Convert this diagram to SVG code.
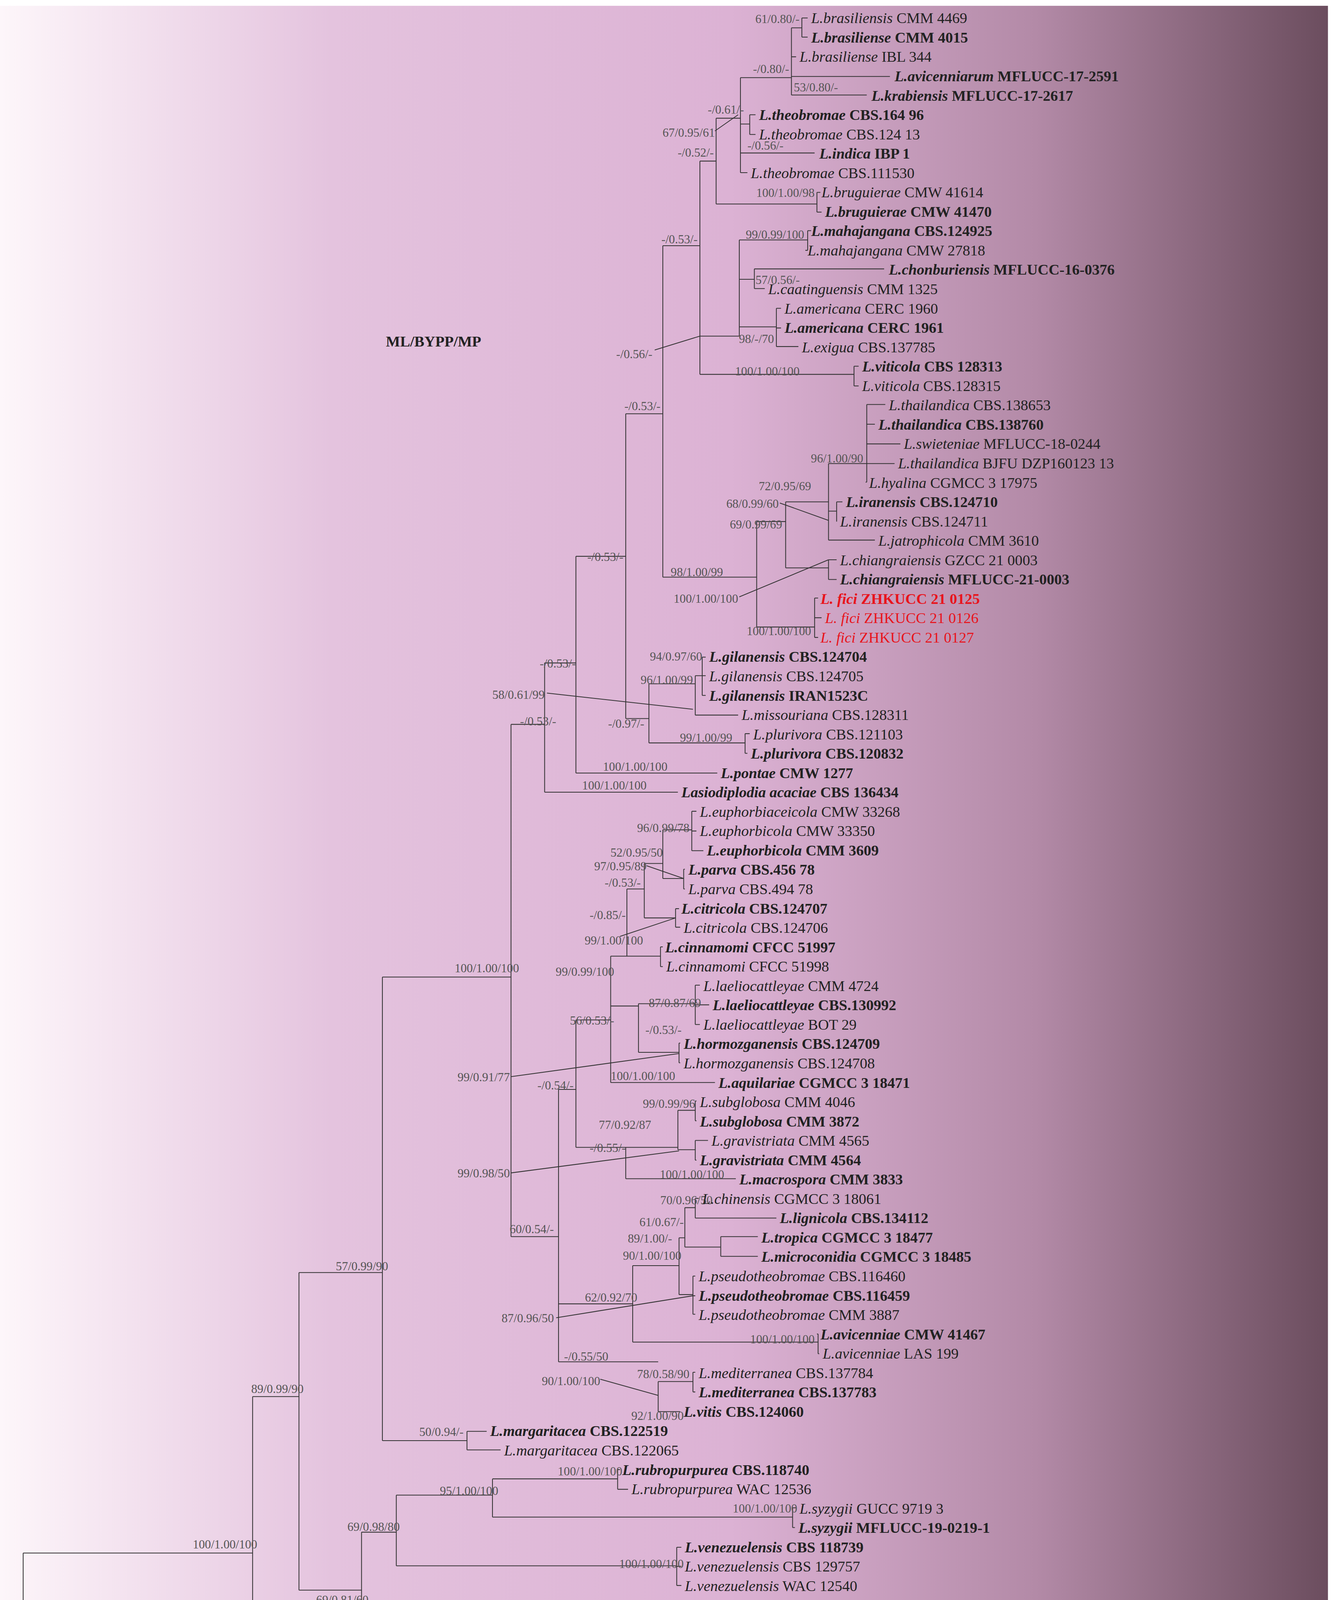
<svg xmlns="http://www.w3.org/2000/svg" width="3408" height="4646" viewBox="0 0 3408 4646">
<defs>
<linearGradient id="gp" x1="0" y1="0" x2="1" y2="0">
<stop offset="0" stop-color="#fdf6fa"/><stop offset="0.25" stop-color="#e4c3de"/><stop offset="0.55" stop-color="#dcb2d4"/><stop offset="0.78" stop-color="#b38aa7"/><stop offset="1" stop-color="#6b4d5e"/>
</linearGradient>
<linearGradient id="gb" x1="0" y1="0" x2="1" y2="0">
<stop offset="0" stop-color="#ffffff"/><stop offset="0.25" stop-color="#cde6f5"/><stop offset="0.74" stop-color="#afd8f0"/><stop offset="0.87" stop-color="#6d8c9c"/><stop offset="1" stop-color="#262626"/>
</linearGradient>
<style>
.br{fill:none;stroke:#333;stroke-width:0.7}
.t{font-family:"Liberation Serif",serif;font-size:13px;fill:#222}
.b{font-weight:bold}
.i{font-style:italic}
.r{fill:#e8141c}
.l{font-family:"Liberation Serif",serif;font-size:10.5px;fill:#555;text-anchor:end}
.ls{font-family:"Liberation Serif",serif;font-size:10.5px;fill:#555}
</style>
</defs>
<rect width="3408" height="4646" fill="#fff"/>
<g transform="scale(2.967)">
<rect x="0" y="5" width="1146" height="1489" fill="url(#gp)"/>
<rect x="0" y="1494" width="1146" height="68" fill="url(#gb)"/>
<g id="connectors" class="br">
<path d="M12,1425H20M20,1340V1510M20,1340H218M20,1510H219M219,1502V1519M219,1502H497M219,1519H385"/>
<path d="M218,1205V1472M218,1205H258M218,1472H436M436,1460V1485M436,1460H468M436,1485H465M468,1452V1468M468,1452H472M468,1468H472"/>
<path d="M258,1098V1372M258,1098H330M258,1372H312M312,1322V1420M312,1322H342M312,1420H468"/>
<path d="M468,1393V1435M468,1393H470M470,1385V1401.6M470,1385H474M470,1401.6H470M468,1418H477M468,1435H472"/>
<path d="M342,1290V1351M342,1290H425M342,1351H584M584,1335V1368M584,1335H588M584,1351.5H588M584,1368H588"/>
<path d="M425,1276V1309M425,1276H533M425,1309H684M533,1268V1285M533,1268H535M533,1285H542M684,1301V1318M684,1301H687M684,1318H686"/>
<path d="M330,843V1243M330,843H441M330,1243H403M403,1235V1251M403,1235H420M403,1251H432"/>
<path d="M441,625V1067M441,625H470M441,1067H482M470,572V683.5M470,572H497M470,683.5H585M497,480V667M497,480H540M497,667H619"/>
<path d="M540,357V620M540,357H572M540,620H560M560,590V641M560,590H600M560,641H643M600,583V617M600,583H606M600,617H637M606,567V600M606,567H609M606,583H609M606,600H609M643,633V650M643,633H647M643,650H645"/>
<path d="M572,212V498M572,212H604M572,498H653M604,139V323M604,139H618M604,290H638M604,323H737M737,316V333M737,316H741M737,333H741"/>
<path d="M618,102V176M618,102H639M618,176H705M705,166V183M705,166H708M705,183H709"/>
<path d="M639,67V149M639,67H683M639,107H647M639,132H703M639,149H645M647,99V116M647,99H652M647,116H652"/>
<path d="M683,24V82M683,24H692M683,49H687M683,66H768M683,82H748M692,15.5V32M692,15.5H697M692,32H697"/>
<path d="M638,207V290M638,207H697M638,241H651M638,282H670M697,199V216M697,199H700M697,216H695M651,232V249M651,232H763M651,249H660M670,266V299M670,266H674M670,283H674M670,299H689"/>
<path d="M653,450V541M653,450H678M653,541H703M703,516V550M703,516H706M703,533H709M703,550H706"/>
<path d="M678,433V490M678,433H715M678,490H715M715,483V500M715,483H722M715,500H722"/>
<path d="M715,400V466M715,400H748M715,441H722M715,466H755M722,433V450M722,433H727M722,450H722"/>
<path d="M748,349V416M748,349H764M748,366H755M748,383H777M748,400H772M748,416H747"/>
<path d="M482,940V1175M482,940H497M482,1125H546M482,1175H568M497,880V990M497,880H527M497,990H540"/>
<path d="M527,825V934M527,825H541M527,868H551M527,934H617M541,767V825M541,767H556M541,825H570M570,817V834M570,817H572M570,834H572"/>
<path d="M556,745V792M556,745H572M556,792H583M583,784V800M583,784H586M583,800H587M572,716V758M572,716H597M572,758H590"/>
<path d="M597,700V734M597,700H601M597,717H601M597,734H607M590,750V767M590,750H591M590,767H591"/>
<path d="M551,866V908M551,866H600M551,908H586M600,850V884M600,850H604M600,867H612M600,884H604M586,900V917M586,900H587M586,917H587"/>
<path d="M540,990V1017M540,990H585M540,1017H635M585,958V992M585,958H600M585,992H600M600,950V967M600,950H601M600,967H601M600,984V1001M600,984H611M600,1001H601"/>
<path d="M546,1092V1158M546,1092H586M546,1158H706M706,1151V1168M706,1151H705M706,1168H707"/>
<path d="M586,1068V1117M586,1068H591M586,1117H598M591,1042V1076M591,1042H600M591,1076H622M600,1034V1051M600,1034H603M600,1051H670M622,1067V1084M622,1067H654M622,1084H654M598,1101V1134M598,1101H600M598,1118H600M598,1134H600"/>
<path d="M568,1192V1218M568,1192H598M568,1218H587M598,1184V1201M598,1184H600M598,1201H600"/>
<path d="M617,113L637,99M565,302L604,290M673,434L715,449M638,515L715,483M472,598L598,612M558,747L590,758M535,808L583,792M441,929L586,909M441,1012L586,993M480,1137L598,1118M518,1190L568,1204"/>
<path d="M329,1547H458"/>
</g>
<g id="support-labels">
<text class="l" x="690" y="20">61/0.80/-</text>
<text class="l" x="681" y="63">-/0.80/-</text>
<text class="ls" x="685" y="79">53/0.80/-</text>
<text class="l" x="642" y="98">-/0.61/-</text>
<text class="l" x="617" y="118">67/0.95/61</text>
<text class="l" x="616" y="135">-/0.52/-</text>
<text class="ls" x="645" y="129">-/0.56/-</text>
<text class="l" x="703" y="170">100/1.00/98</text>
<text class="l" x="694" y="206">99/0.99/100</text>
<text class="ls" x="652" y="245">57/0.56/-</text>
<text class="l" x="668" y="296">98/-/70</text>
<text class="l" x="602" y="210">-/0.53/-</text>
<text class="l" x="563" y="309">-/0.56/-</text>
<text class="l" x="690" y="324">100/1.00/100</text>
<text class="l" x="570" y="354">-/0.53/-</text>
<text class="l" x="745" y="399">96/1.00/90</text>
<text class="l" x="700" y="423">72/0.95/69</text>
<text class="l" x="672" y="438">68/0.99/60</text>
<text class="l" x="675" y="456">69/0.99/69</text>
<text class="l" x="624" y="497">98/1.00/99</text>
<text class="l" x="637" y="520">100/1.00/100</text>
<text class="l" x="700" y="548">100/1.00/100</text>
<text class="l" x="538" y="484">-/0.53/-</text>
<text class="l" x="606" y="570">94/0.97/60</text>
<text class="l" x="497" y="576">-/0.53/-</text>
<text class="l" x="598" y="590">96/1.00/99</text>
<text class="l" x="470" y="603">58/0.61/99</text>
<text class="l" x="480" y="626">-/0.53/-</text>
<text class="l" x="556" y="628">-/0.97/-</text>
<text class="l" x="632" y="640">99/1.00/99</text>
<text class="l" x="576" y="665">100/1.00/100</text>
<text class="l" x="558" y="681">100/1.00/100</text>
<text class="l" x="595" y="718">96/0.99/78</text>
<text class="l" x="572" y="739">52/0.95/50</text>
<text class="l" x="558" y="751">97/0.95/89</text>
<text class="l" x="553" y="765">-/0.53/-</text>
<text class="l" x="540" y="793">-/0.85/-</text>
<text class="l" x="555" y="815">99/1.00/100</text>
<text class="l" x="530" y="842">99/0.99/100</text>
<text class="l" x="448" y="839">100/1.00/100</text>
<text class="l" x="605" y="869">87/0.87/69</text>
<text class="l" x="530" y="884">56/0.53/-</text>
<text class="ls" x="557" y="892">-/0.53/-</text>
<text class="l" x="440" y="933">99/0.91/77</text>
<text class="ls" x="527" y="932">100/1.00/100</text>
<text class="l" x="495" y="940">-/0.54/-</text>
<text class="l" x="600" y="956">99/0.99/96</text>
<text class="l" x="562" y="974">77/0.92/87</text>
<text class="l" x="540" y="994">-/0.55/-</text>
<text class="l" x="440" y="1016">99/0.98/50</text>
<text class="l" x="625" y="1017">100/1.00/100</text>
<text class="l" x="615" y="1039">70/0.96/50</text>
<text class="l" x="590" y="1058">61/0.67/-</text>
<text class="l" x="478" y="1064">60/0.54/-</text>
<text class="l" x="580" y="1072">89/1.00/-</text>
<text class="l" x="588" y="1087">90/1.00/100</text>
<text class="l" x="335" y="1096">57/0.99/90</text>
<text class="l" x="550" y="1123">62/0.92/70</text>
<text class="l" x="478" y="1141">87/0.96/50</text>
<text class="l" x="703" y="1159">100/1.00/100</text>
<text class="l" x="525" y="1174">-/0.55/50</text>
<text class="l" x="595" y="1189">78/0.58/90</text>
<text class="l" x="518" y="1195">90/1.00/100</text>
<text class="l" x="262" y="1202">89/0.99/90</text>
<text class="l" x="590" y="1225">92/1.00/90</text>
<text class="l" x="400" y="1239">50/0.94/-</text>
<text class="l" x="537" y="1273">100/1.00/100</text>
<text class="l" x="430" y="1290">95/1.00/100</text>
<text class="l" x="688" y="1305">100/1.00/100</text>
<text class="l" x="345" y="1321">69/0.98/80</text>
<text class="l" x="222" y="1336">100/1.00/100</text>
<text class="l" x="590" y="1353">100/1.00/100</text>
<text class="l" x="318" y="1384">69/0.81/60</text>
<text class="l" x="470" y="1401">63/0.87/70</text>
<text class="l" x="460" y="1418">99/1.00/100</text>
<text class="l" x="475" y="1444">70/95/-</text>
<text class="l" x="472" y="1459">99/1.00/100</text>
<text class="l" x="436" y="1486">100/1.00/100</text>
<text class="l" x="217" y="1506">100/-/-</text>
</g>
<g id="title"><text class="t b" x="333" y="299">ML/BYPP/MP</text></g>
<g id="scale"><text class="t" x="402" y="1557" text-anchor="middle">0.02</text></g>
<g id="tips" class="t">
<g id="t1"><text class="t" x="700" y="20"><tspan class="i">L.brasiliensis</tspan> CMM 4469</text></g>
<g id="t2"><text class="t b" x="700" y="36.7"><tspan class="i">L.brasiliense</tspan> CMM 4015</text></g>
<g id="t3"><text class="t" x="690" y="53.4"><tspan class="i">L.brasiliense</tspan> IBL 344</text></g>
<g id="t4"><text class="t b" x="772" y="70.1"><tspan class="i">L.avicenniarum</tspan> MFLUCC-17-2591</text></g>
<g id="t5"><text class="t b" x="752" y="86.8"><tspan class="i">L.krabiensis</tspan> MFLUCC-17-2617</text></g>
<g id="t6"><text class="t b" x="655" y="103.5"><tspan class="i">L.theobromae</tspan> CBS.164 96</text></g>
<g id="t7"><text class="t" x="655" y="120.2"><tspan class="i">L.theobromae</tspan> CBS.124 13</text></g>
<g id="t8"><text class="t b" x="707" y="136.9"><tspan class="i">L.indica</tspan> IBP 1</text></g>
<g id="t9"><text class="t" x="648" y="153.6"><tspan class="i">L.theobromae</tspan> CBS.111530</text></g>
<g id="t10"><text class="t" x="709" y="170.3"><tspan class="i">L.bruguierae</tspan> CMW 41614</text></g>
<g id="t11"><text class="t b" x="712" y="187"><tspan class="i">L.bruguierae</tspan> CMW 41470</text></g>
<g id="t12"><text class="t b" x="700" y="203.7"><tspan class="i">L.mahajangana</tspan> CBS.124925</text></g>
<g id="t13"><text class="t" x="697" y="220.4"><tspan class="i">L.mahajangana</tspan> CMW 27818</text></g>
<g id="t14"><text class="t b" x="767" y="237.1"><tspan class="i">L.chonburiensis</tspan> MFLUCC-16-0376</text></g>
<g id="t15"><text class="t" x="663" y="253.8"><tspan class="i">L.caatinguensis</tspan> CMM 1325</text></g>
<g id="t16"><text class="t" x="677" y="270.5"><tspan class="i">L.americana</tspan> CERC 1960</text></g>
<g id="t17"><text class="t b" x="677" y="287.2"><tspan class="i">L.americana</tspan> CERC 1961</text></g>
<g id="t18"><text class="t" x="692" y="303.9"><tspan class="i">L.exigua</tspan> CBS.137785</text></g>
<g id="t19"><text class="t b" x="744" y="320.6"><tspan class="i">L.viticola</tspan> CBS 128313</text></g>
<g id="t20"><text class="t" x="744" y="337.3"><tspan class="i">L.viticola</tspan> CBS.128315</text></g>
<g id="t21"><text class="t" x="767" y="354"><tspan class="i">L.thailandica</tspan> CBS.138653</text></g>
<g id="t22"><text class="t b" x="758" y="370.7"><tspan class="i">L.thailandica</tspan> CBS.138760</text></g>
<g id="t23"><text class="t" x="780" y="387.4"><tspan class="i">L.swieteniae</tspan> MFLUCC-18-0244</text></g>
<g id="t24"><text class="t" x="775" y="404.1"><tspan class="i">L.thailandica</tspan> BJFU DZP160123 13</text></g>
<g id="t25"><text class="t" x="750" y="420.8"><tspan class="i">L.hyalina</tspan> CGMCC 3 17975</text></g>
<g id="t26"><text class="t b" x="730" y="437.5"><tspan class="i">L.iranensis</tspan> CBS.124710</text></g>
<g id="t27"><text class="t" x="725" y="454.2"><tspan class="i">L.iranensis</tspan> CBS.124711</text></g>
<g id="t28"><text class="t" x="758" y="470.9"><tspan class="i">L.jatrophicola</tspan> CMM 3610</text></g>
<g id="t29"><text class="t" x="725" y="487.6"><tspan class="i">L.chiangraiensis</tspan> GZCC 21 0003</text></g>
<g id="t30"><text class="t b" x="725" y="504.3"><tspan class="i">L.chiangraiensis</tspan> MFLUCC-21-0003</text></g>
<g id="t31"><text class="t b r" x="708" y="521"><tspan class="i">L. fici</tspan> ZHKUCC 21 0125</text></g>
<g id="t32"><text class="t r" x="712" y="537.7"><tspan class="i">L. fici</tspan> ZHKUCC 21 0126</text></g>
<g id="t33"><text class="t r" x="708" y="554.4"><tspan class="i">L. fici</tspan> ZHKUCC 21 0127</text></g>
<g id="t34"><text class="t b" x="612" y="571.1"><tspan class="i">L.gilanensis</tspan> CBS.124704</text></g>
<g id="t35"><text class="t" x="612" y="587.8"><tspan class="i">L.gilanensis</tspan> CBS.124705</text></g>
<g id="t36"><text class="t b" x="612" y="604.5"><tspan class="i">L.gilanensis</tspan> IRAN1523C</text></g>
<g id="t37"><text class="t" x="640" y="621.2"><tspan class="i">L.missouriana</tspan> CBS.128311</text></g>
<g id="t38"><text class="t" x="650" y="637.9"><tspan class="i">L.plurivora</tspan> CBS.121103</text></g>
<g id="t39"><text class="t b" x="648" y="654.6"><tspan class="i">L.plurivora</tspan> CBS.120832</text></g>
<g id="t40"><text class="t b" x="622" y="671.3"><tspan class="i">L.pontae</tspan> CMW 1277</text></g>
<g id="t41"><text class="t b" x="588" y="688"><tspan class="i">Lasiodiplodia acaciae</tspan> CBS 136434</text></g>
<g id="t42"><text class="t" x="604" y="704.7"><tspan class="i">L.euphorbiaceicola</tspan> CMW 33268</text></g>
<g id="t43"><text class="t" x="604" y="721.4"><tspan class="i">L.euphorbicola</tspan> CMW 33350</text></g>
<g id="t44"><text class="t b" x="610" y="738.1"><tspan class="i">L.euphorbicola</tspan> CMM 3609</text></g>
<g id="t45"><text class="t b" x="594" y="754.8"><tspan class="i">L.parva</tspan> CBS.456 78</text></g>
<g id="t46"><text class="t" x="594" y="771.5"><tspan class="i">L.parva</tspan> CBS.494 78</text></g>
<g id="t47"><text class="t b" x="588" y="788.2"><tspan class="i">L.citricola</tspan> CBS.124707</text></g>
<g id="t48"><text class="t" x="590" y="804.9"><tspan class="i">L.citricola</tspan> CBS.124706</text></g>
<g id="t49"><text class="t b" x="574" y="821.6"><tspan class="i">L.cinnamomi</tspan> CFCC 51997</text></g>
<g id="t50"><text class="t" x="575" y="838.3"><tspan class="i">L.cinnamomi</tspan> CFCC 51998</text></g>
<g id="t51"><text class="t" x="607" y="855"><tspan class="i">L.laeliocattleyae</tspan> CMM 4724</text></g>
<g id="t52"><text class="t b" x="615" y="871.7"><tspan class="i">L.laeliocattleyae</tspan> CBS.130992</text></g>
<g id="t53"><text class="t" x="607" y="888.4"><tspan class="i">L.laeliocattleyae</tspan> BOT 29</text></g>
<g id="t54"><text class="t b" x="590" y="905.1"><tspan class="i">L.hormozganensis</tspan> CBS.124709</text></g>
<g id="t55"><text class="t" x="590" y="921.8"><tspan class="i">L.hormozganensis</tspan> CBS.124708</text></g>
<g id="t56"><text class="t b" x="620" y="938.5"><tspan class="i">L.aquilariae</tspan> CGMCC 3 18471</text></g>
<g id="t57"><text class="t" x="604" y="955.2"><tspan class="i">L.subglobosa</tspan> CMM 4046</text></g>
<g id="t58"><text class="t b" x="604" y="971.9"><tspan class="i">L.subglobosa</tspan> CMM 3872</text></g>
<g id="t59"><text class="t" x="614" y="988.6"><tspan class="i">L.gravistriata</tspan> CMM 4565</text></g>
<g id="t60"><text class="t b" x="604" y="1005.3"><tspan class="i">L.gravistriata</tspan> CMM 4564</text></g>
<g id="t61"><text class="t b" x="638" y="1022"><tspan class="i">L.macrospora</tspan> CMM 3833</text></g>
<g id="t62"><text class="t" x="606" y="1038.7"><tspan class="i">L.chinensis</tspan> CGMCC 3 18061</text></g>
<g id="t63"><text class="t b" x="673" y="1055.4"><tspan class="i">L.lignicola</tspan> CBS.134112</text></g>
<g id="t64"><text class="t b" x="657" y="1072.1"><tspan class="i">L.tropica</tspan> CGMCC 3 18477</text></g>
<g id="t65"><text class="t b" x="657" y="1088.8"><tspan class="i">L.microconidia</tspan> CGMCC 3 18485</text></g>
<g id="t66"><text class="t" x="603" y="1105.5"><tspan class="i">L.pseudotheobromae</tspan> CBS.116460</text></g>
<g id="t67"><text class="t b" x="603" y="1122.2"><tspan class="i">L.pseudotheobromae</tspan> CBS.116459</text></g>
<g id="t68"><text class="t" x="603" y="1138.9"><tspan class="i">L.pseudotheobromae</tspan> CMM 3887</text></g>
<g id="t69"><text class="t b" x="708" y="1155.6"><tspan class="i">L.avicenniae</tspan> CMW 41467</text></g>
<g id="t70"><text class="t" x="710" y="1172.3"><tspan class="i">L.avicenniae</tspan> LAS 199</text></g>
<g id="t71"><text class="t" x="603" y="1189"><tspan class="i">L.mediterranea</tspan> CBS.137784</text></g>
<g id="t72"><text class="t b" x="603" y="1205.7"><tspan class="i">L.mediterranea</tspan> CBS.137783</text></g>
<g id="t73"><text class="t b" x="590" y="1222.4"><tspan class="i">L.vitis</tspan> CBS.124060</text></g>
<g id="t74"><text class="t b" x="423" y="1239.1"><tspan class="i">L.margaritacea</tspan> CBS.122519</text></g>
<g id="t75"><text class="t" x="435" y="1255.8"><tspan class="i">L.margaritacea</tspan> CBS.122065</text></g>
<g id="t76"><text class="t b" x="537" y="1272.5"><tspan class="i">L.rubropurpurea</tspan> CBS.118740</text></g>
<g id="t77"><text class="t" x="545" y="1289.2"><tspan class="i">L.rubropurpurea</tspan> WAC 12536</text></g>
<g id="t78"><text class="t" x="690" y="1305.9"><tspan class="i">L.syzygii</tspan> GUCC 9719 3</text></g>
<g id="t79"><text class="t b" x="689" y="1322.6"><tspan class="i">L.syzygii</tspan> MFLUCC-19-0219-1</text></g>
<g id="t80"><text class="t b" x="591" y="1339.3"><tspan class="i">L.venezuelensis</tspan> CBS 118739</text></g>
<g id="t81"><text class="t" x="591" y="1356"><tspan class="i">L.venezuelensis</tspan> CBS 129757</text></g>
<g id="t82"><text class="t" x="591" y="1372.7"><tspan class="i">L.venezuelensis</tspan> WAC 12540</text></g>
<g id="t83"><text class="t" x="477" y="1389.4"><tspan class="i">L.crassispora</tspan> CMW 13488</text></g>
<g id="t84"><text class="t" x="472" y="1406.1"><tspan class="i">L.crassispora</tspan> CMM 4585</text></g>
<g id="t85"><text class="t" x="480" y="1422.8"><tspan class="i">L.pyriformis</tspan> CBS.121770</text></g>
<g id="t86"><text class="t b" x="475" y="1439.5"><tspan class="i">L.crassispora</tspan> CBS.118741</text></g>
<g id="t87"><text class="t b" x="475" y="1456.2"><tspan class="i">L.gonubiensis</tspan> CBS.115812</text></g>
<g id="t88"><text class="t" x="475" y="1472.9"><tspan class="i">L.gonubiensis</tspan> CMW 14078</text></g>
<g id="t89"><text class="t" x="468" y="1489.6"><tspan class="i">L.gonubiensis</tspan> CMW 46621</text></g>
<g id="t90"><text class="t" x="500" y="1506.3"><tspan class="i">Diplodia mutila</tspan> CMW 7060</text></g>
<g id="t91"><text class="t b" x="388" y="1523"><tspan class="i">D.seriata</tspan> CBS.112555</text></g>
</g>
</g>
</svg>
